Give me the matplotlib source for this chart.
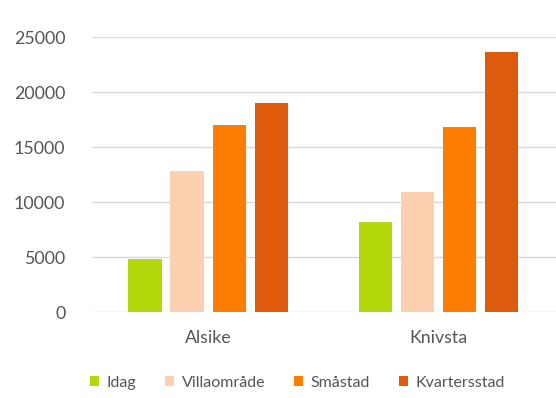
import matplotlib.pyplot as plt
import numpy as np

plt.rcParams['font.family'] = ['Lato', 'DejaVu Sans']

places = ["Alsike", "Knivsta"]
series = ["Idag", "Villaområde", "Småstad", "Kvartersstad"]
idag = [4850, 8200]
villa = [12800, 10900]
smastad = [17050, 16850]
kvarter = [19050, 23700]
colors = ["#b3d80c", "#fdd0b0", "#fe7d00", "#de5a0c"]

fig = plt.figure(figsize=(5.56, 3.98), dpi=100)
ax = fig.add_axes([0.165, 0.216, 0.835, 0.69])

x = np.arange(len(places))
step = 0.1826
width = 0.144
for i, (name, vals) in enumerate(zip(series, [idag, villa, smastad, kvarter])):
    ax.bar(x + (i - 1.5) * step, vals, width, color=colors[i], label=name, zorder=3)

ax.set_xlim(-0.505, 1.51)
ax.set_ylim(0, 25000)
ax.set_yticks(range(0, 25001, 5000))
ax.set_xticks(x)
ax.set_xticklabels(places)
ax.grid(axis='y', color='#d8d8d8', linewidth=1, zorder=0)
for s in ax.spines.values():
    s.set_visible(False)
ax.tick_params(length=0, labelcolor='#555555', labelsize=12.8)
ax.tick_params(axis='y', pad=19)
ax.tick_params(axis='x', pad=13)

ax.legend(loc='upper center', bbox_to_anchor=(0.443, -0.18), ncol=4, frameon=False,
          handlelength=0.55, handleheight=0.55, handletextpad=0.5, columnspacing=1.8,
          fontsize=11.5, labelcolor='#555555')

plt.savefig("out.png", dpi=100)
